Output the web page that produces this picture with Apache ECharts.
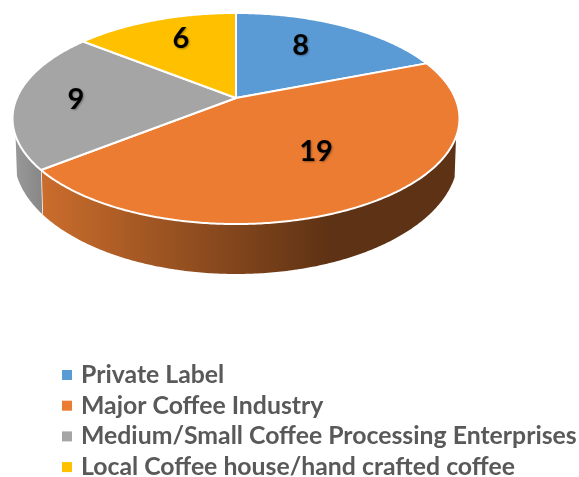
<!DOCTYPE html>
<html>
<head>
<meta charset="utf-8">
<style>html,body{margin:0;padding:0;background:#fff}#chart{width:579px;height:477px}</style>
<script src="https://cdn.jsdelivr.net/npm/echarts@6/dist/echarts.min.js"></script>
</head>
<body>
<div id="chart"></div>
<script>
const categories = [
  'Private Label',
  'Major Coffee Industry',
  'Medium/Small Coffee Processing Enterprises',
  'Local Coffee house/hand crafted coffee'
];
const counts = [8, 19, 9, 6];
const topColors = ['#5B9BD5', '#EB7C31', '#A5A5A5', '#FFC000'];

// Outer side wall paint, one per slice; hidden slices have none.
const wallPaints = [
  null,
  { x0: 45, x1: 330, stops: ['#C96C2C', '#5E3214'] },
  { x0: 13, x1: 45, stops: ['#9A9A9A', '#858585'] },
  null
];
// Label placement within a slice: radial fraction and angular shift in degrees.
const labelPlacement = [
  { r: 0.672, shift: -5 },
  { r: 0.572, shift: -5.5 },
  { r: 0.73, shift: 0 },
  { r: 0.737, shift: 3 }
];

// Tilted disc with perspective: the hub sits above the centre of the rim ellipse.
const disc = { cx: 236, hubY: 98, b: 82.5, c: -0.1943, d: 219.2 };
const rim = { cy: 118.5, rx: 223.5, ry: 105.5 };
const base = { cy: 157, rx: 222, ry: 117 };
const WALL_FROM = 10 * Math.PI / 180;
const WALL_TO = 171 * Math.PI / 180;

const total = counts.reduce((a, b) => a + b, 0);

function project(theta, r) {
  const x = r * Math.sin(theta), y = -r * Math.cos(theta);
  const w = 1 + disc.c * y;
  return [disc.cx + disc.d * x / w, (disc.hubY + disc.b * y) / w];
}
function sliceAngles(i) {
  const before = counts.slice(0, i).reduce((a, b) => a + b, 0);
  return [before / total * 2 * Math.PI, (before + counts[i]) / total * 2 * Math.PI];
}
function rimAngle(p) {
  return Math.atan2((p[1] - rim.cy) / rim.ry, (p[0] - disc.cx) / rim.rx);
}
function basePoint(phi) {
  return [disc.cx + base.rx * Math.cos(phi), base.cy + base.ry * Math.sin(phi)];
}
function arcPoints(a0, a1) {
  const n = Math.max(2, Math.ceil((a1 - a0) / 0.01));
  const pts = [];
  for (let k = 0; k <= n; k++) pts.push(project(a0 + (a1 - a0) * k / n, 1));
  return pts;
}

function renderSlice(params) {
  const i = params.seriesIndex;
  const [a0, a1] = sliceAngles(i);
  const children = [];
  const arc = arcPoints(a0, a1);

  if (wallPaints[i]) {
    const paint = wallPaints[i];
    const front = arc.filter(p => {
      const phi = rimAngle(p);
      return phi >= WALL_FROM && phi <= WALL_TO;
    });
    const lower = front.map(p => basePoint(rimAngle(p))).reverse();
    children.push({
      type: 'polygon',
      shape: { points: front.concat(lower) },
      style: {
        fill: {
          type: 'linear', x: paint.x0, y: 0, x2: paint.x1, y2: 0, global: true,
          colorStops: [
            { offset: 0, color: paint.stops[0] },
            { offset: 1, color: paint.stops[1] }
          ]
        }
      }
    });
  }

  children.push({
    type: 'polygon',
    shape: { points: [project(0, 0)].concat(arc) },
    style: { fill: topColors[i], stroke: '#fff', lineWidth: 2, lineJoin: 'round' }
  });

  // Seam where the orange and grey walls meet.
  if (i === 1) {
    const p = project(a1, 1);
    children.push({
      type: 'polyline',
      shape: { points: [p, basePoint(rimAngle(p))] },
      style: { stroke: '#fff', lineWidth: 1.5, fill: null }
    });
  }

  const place = labelPlacement[i];
  const mid = (a0 + a1) / 2 + place.shift * Math.PI / 180;
  const at = project(mid, place.r);
  children.push({
    type: 'text',
    z2: 10,
    style: {
      x: at[0], y: at[1] + 1.5,
      text: String(counts[i]),
      font: 'bold 29px Lato, "Open Sans", sans-serif',
      fill: '#000',
      align: 'center',
      verticalAlign: 'middle',
      textShadowColor: 'rgba(0,0,0,0.35)',
      textShadowBlur: 2,
      textShadowOffsetX: 1,
      textShadowOffsetY: 1
    }
  });
  return { type: 'group', children };
}

const chart = echarts.init(document.getElementById('chart'), null, { renderer: 'canvas' });
chart.setOption({
  animation: false,
  backgroundColor: '#fff',
  legend: {
    orient: 'vertical',
    left: 62,
    top: 361,
    width: 517,
    height: 150,
    padding: 0,
    icon: 'rect',
    itemWidth: 10,
    itemHeight: 10,
    itemGap: 2.7,
    selectedMode: false,
    textStyle: {
      color: '#595959',
      fontFamily: 'Lato, "Open Sans", sans-serif',
      fontWeight: 'bold',
      fontSize: 24.8,
      lineHeight: 28,
      padding: [0, 0, 0, 4]
    },
    data: categories
  },
  series: categories.map((name, i) => ({
    type: 'custom',
    name,
    coordinateSystem: 'none',
    silent: true,
    itemStyle: { color: topColors[i] },
    renderItem: renderSlice,
    data: [counts[i]]
  }))
});
</script>
</body>
</html>
